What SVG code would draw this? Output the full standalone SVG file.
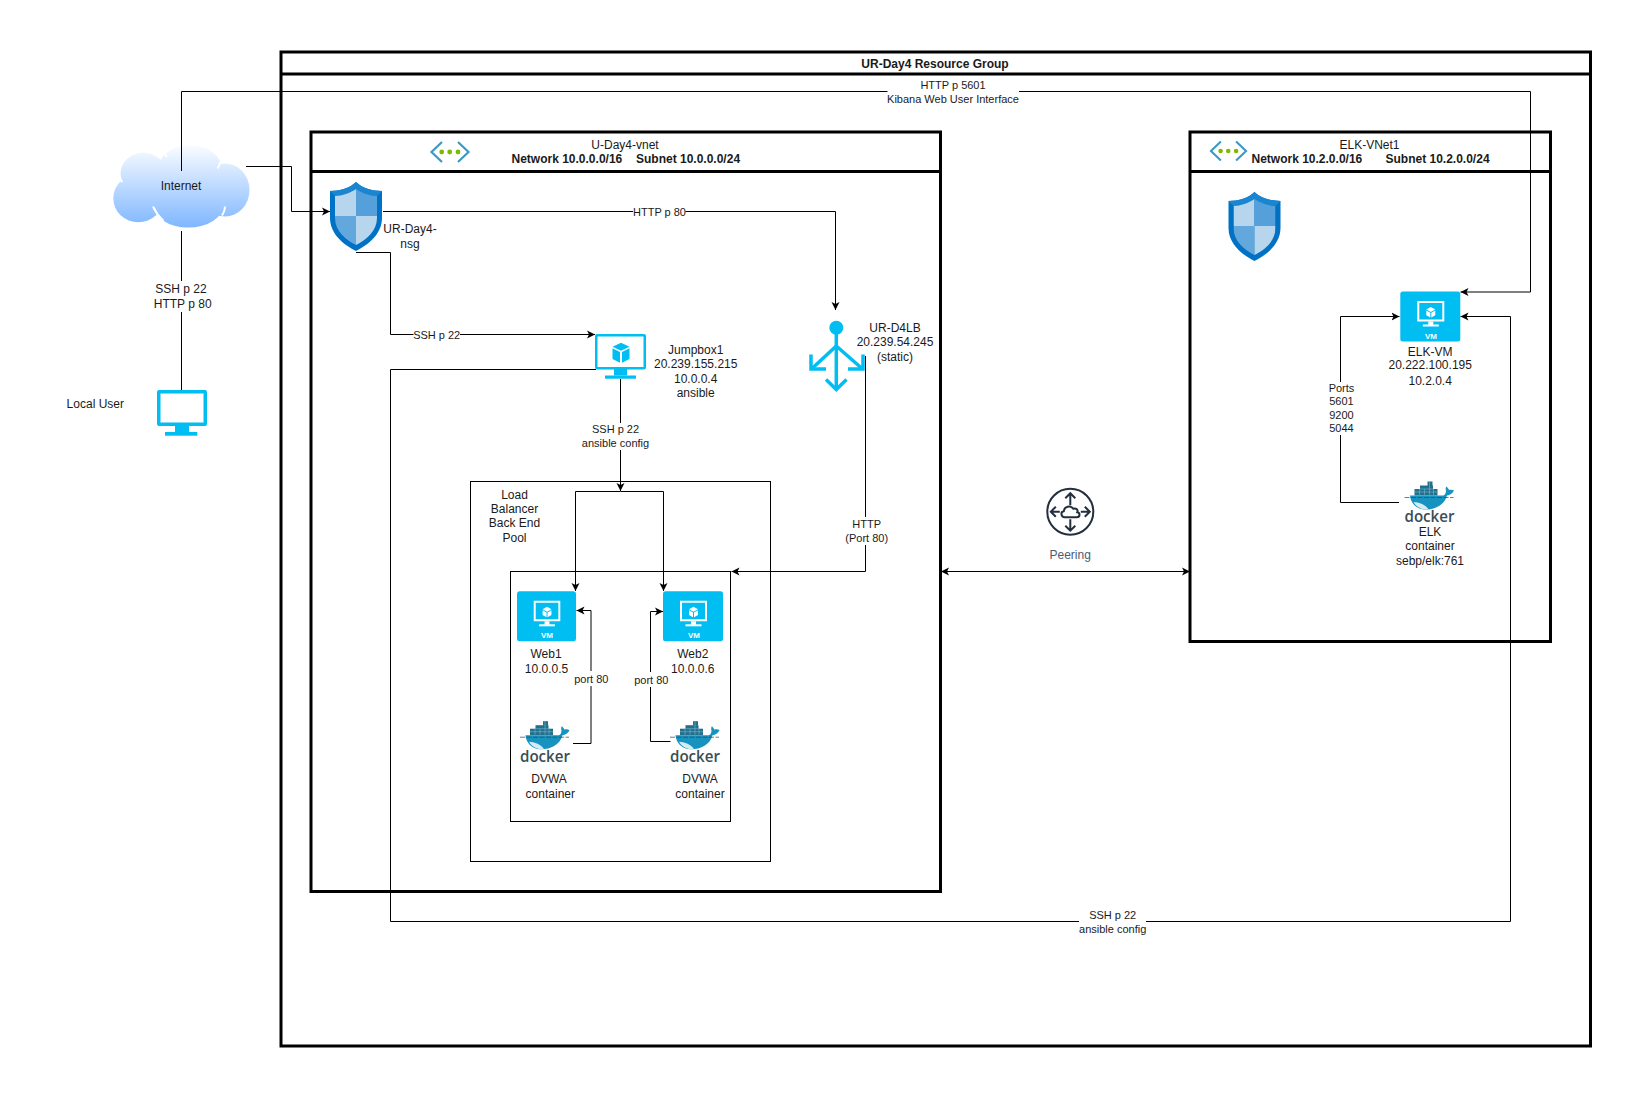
<svg xmlns="http://www.w3.org/2000/svg" xmlns:xlink="http://www.w3.org/1999/xlink" width="1643" height="1098" viewBox="0 0 1643 1098">
<style>
text{font-family:"Liberation Sans",Arial,sans-serif;font-size:12px;fill:#1a1a1a;text-anchor:middle}
.e{font-size:11px}
.b{font-weight:bold}
.l{text-anchor:start}
.box{fill:none;stroke:#000;stroke-width:3}
.thin{fill:none;stroke:#000;stroke-width:1}
.c{fill:none;stroke:#000;stroke-width:1}
.a{marker-end:url(#arr)}
.m{fill:#fff}
.vmt{font-size:8px;font-weight:bold;fill:#fff}
.dk{font-family:"Open Sans","Liberation Sans",sans-serif;font-size:16px;font-weight:600;fill:#3a4d54;text-anchor:start}
.mon{fill:#00bef2}
</style>
<defs>
<marker id="arr" markerUnits="userSpaceOnUse" markerWidth="9" markerHeight="9" refX="8" refY="4.5" orient="auto-start-reverse" viewBox="0 0 9 9"><path d="M0 0.5L8 4.5L0 8.500L2 4.5Z" fill="#000"/></marker>
<linearGradient id="cg" gradientUnits="userSpaceOnUse" x1="0" y1="145" x2="0" y2="228"><stop offset="0" stop-color="#fbfdff"/><stop offset="1" stop-color="#7eb6ff"/></linearGradient>
<clipPath id="shc"><path d="M26 7C32 11 40 14 47 14V36C47 49 36 58 26 63C16 58 5 49 5 36V14C12 14 20 11 26 7Z"/></clipPath>
<g id="shield">
<path d="M26 0C32 6 42 9 52 9V36C52 52 38 63 26 69C14 63 0 52 0 36V9C10 9 20 6 26 0Z" fill="#0072c6"/>
<path d="M26 0C32 6 42 9 52 9L47 14C40 14 32 11 26 7C20 11 12 14 5 14L0 9C10 9 20 6 26 0Z" fill="#1a86d0"/>
<g clip-path="url(#shc)"><rect x="0" y="0" width="26" height="34" fill="#b7d5ec"/><rect x="26" y="0" width="26" height="34" fill="#55a0da"/><rect x="0" y="34" width="26" height="35" fill="#62a8dc"/><rect x="26" y="34" width="26" height="35" fill="#b7d5ec"/></g>
</g>
<g id="vnet" fill="none" stroke="#3999c6" stroke-width="2.2">
<path d="M12 1L1.5 11L12 21"/><path d="M28 1L38.5 11L28 21"/>
<circle cx="11.7" cy="11" r="2.4" fill="#7fba00" stroke="none"/><circle cx="19.7" cy="11" r="2.4" fill="#7fba00" stroke="none"/><circle cx="28" cy="11" r="2.4" fill="#7fba00" stroke="none"/>
</g>
<g id="vmbox">
<rect x="0" y="0" width="60" height="50" rx="2.5" fill="#00bef2"/>
<path fill-rule="evenodd" d="M17 9.5H44V30H17ZM19 11.5V28H42V11.5Z" fill="#fff"/>
<rect x="28" y="30" width="5" height="3.5" fill="#fff"/><rect x="22.5" y="33" width="16" height="2" fill="#fff"/>
<path d="M30.5 15.5L35 18L30.5 20.5L26 18Z M26 19L30 21.2V26L26 23.7Z M35 19L31 21.2V26L35 23.7Z" fill="#fff"/>
</g>
<g id="whale">
<rect x="10" y="8" width="23" height="6.5" fill="#24708c"/>
<rect x="15.5" y="4.5" width="13" height="4" fill="#24708c"/>
<rect x="23" y="0.5" width="5" height="4.5" fill="#24708c"/>
<path d="M10 11H33M15.5 8H29M15 8V14M20 8V14M25 1V14M29 8V14" stroke="#7fc4dc" stroke-width="0.5" fill="none"/>
<path d="M5.5 14.5H38C40 14.5 41 13.5 41.5 10C41 8 41 6.5 42 5.5C43 7 44.5 8 44.5 9C46 8.5 48 8.5 49.5 9.5C48 12.500 45.5 14 42.5 14.500C40 24 31 28.500 21 28.500C11 28.500 6 21 5.5 14.500Z" fill="#1793c0"/>
<path d="M9 21C14 21 22 24 24 28.500C17 29 12 26 9 21Z" fill="#d5ecf4"/>
<path d="M0 16.500H49" stroke="#2f4650" stroke-width="0.7" stroke-dasharray="5 1.500" fill="none"/>
</g>
<g id="cube"><path d="M0 -10L8.5 -6L0 -2L-8.5 -6Z M-8.5 -4.500L-1 -0.800V10L-8.500 6.200Z M8.500 -4.500L1 -0.800V10L8.500 6.200Z" fill="#00bef2"/></g>
</defs>
<rect width="1643" height="1098" fill="#fff"/>

<g id="resource-group">
<rect class="box" x="281" y="52" width="1309.5" height="994"/>
<path class="box" d="M281 74H1590.5"/>
<text class="b" x="935" y="68">UR-Day4 Resource Group</text>
</g>
<g id="u-day4-vnet">
<rect class="box" x="311" y="132" width="629.5" height="759.5"/>
<path class="box" d="M311 171.5H940.5"/>
<text x="625" y="149">U-Day4-vnet</text>
<text class="b l" x="511.500" y="163">Network 10.0.0.0/16</text>
<text class="b l" x="636" y="163">Subnet 10.0.0.0/24</text>
<use xlink:href="#vnet" href="#vnet" x="430" y="141"/>
</g>
<g id="elk-vnet1">
<rect class="box" x="1190" y="132" width="360.5" height="509.5"/>
<path class="box" d="M1190 171.5H1550.5"/>
<text x="1369.5" y="149">ELK-VNet1</text>
<text class="b l" x="1251.5" y="163">Network 10.2.0.0/16</text>
<text class="b l" x="1385.500" y="163">Subnet 10.2.0.0/24</text>
<use xlink:href="#vnet" href="#vnet" transform="translate(1209.5 140.5) scale(.95)"/>
</g>
<g id="lb-pool">
<rect class="thin" x="470.5" y="481.5" width="300" height="380"/>
<text x="514.5" y="498.5">Load</text><text x="514.5" y="512.5">Balancer</text><text x="514.5" y="527">Back End</text><text x="514.5" y="541.5">Pool</text>
</g>
<g id="web-pool"><rect class="thin" x="510.5" y="571.5" width="220" height="250"/></g>

<g id="internet">
<g fill="url(#cg)"><ellipse cx="143.3" cy="173.3" rx="22.7" ry="20.7"/><ellipse cx="190" cy="169" rx="31.7" ry="24"/><ellipse cx="225" cy="190" rx="24.5" ry="26.5"/><ellipse cx="188.3" cy="203.3" rx="36" ry="24.3"/><ellipse cx="138.3" cy="198.3" rx="25" ry="24"/><rect x="135" y="165" width="90" height="45"/></g>
<g fill="none" stroke="#fff" stroke-width="2"><path d="M153 206.5Q157 215 163.5 221"/><path d="M225 206.5Q225 211 222 215.5"/><path d="M220 162Q220 165 217.5 168.5"/><path d="M162.5 151Q165 154 167 157"/><path d="M118 178Q120 180 122.5 182"/></g>
<text x="181" y="189.5">Internet</text>
</g>

<g id="connectors">
<path class="c a" d="M246 166.5H291.5V211.5H330"/>
<path class="c a" d="M383 211.5H835.5V310"/>
<path class="c a" d="M356 252.5H390.5V334.5H595"/>
<path class="c a" d="M596 369.5H390.5V921.5H1510.5V316.5H1460.500"/>
<path class="c a" d="M181.5 171V91.5H1530.5V292H1460.500"/>
<path class="c" d="M181.5 231V390"/>
<path class="c a" d="M620.5 379V491"/>
<path class="c a" d="M620.5 491.5H575.5V591"/>
<path class="c a" d="M620.5 491.5H663.5V591"/>
<path class="c a" d="M865.500 356V571.5H731.500"/>
<path class="c a" d="M941 571.5H1190" marker-start="url(#arr)"/>
<path class="c a" d="M573 743.5H591V610.5H576.500"/>
<path class="c a" d="M670.5 741.5H650.5V611.5H663"/>
<path class="c a" d="M1399 502.5H1340.5V316.5H1399.500"/>
<rect class="m" x="633" y="205" width="52.5" height="14"/>
<rect class="m" x="413.5" y="328" width="46.5" height="14"/>
<rect class="m" x="155" y="281" width="55" height="31"/>
<rect class="m" x="581" y="423" width="68" height="27"/>
<rect class="m" x="845" y="517" width="43" height="28"/>
<rect class="m" x="574" y="671" width="35" height="15"/>
<rect class="m" x="634" y="672" width="35" height="15"/>
<rect class="m" x="1328" y="382" width="27" height="53"/>
<rect class="m" x="887.5" y="78" width="131.5" height="27"/>
<rect class="m" x="1079" y="908" width="67" height="28"/>
<text class="e" x="659.5" y="216">HTTP p 80</text>
<text class="e" x="436.7" y="339">SSH p 22</text>
<text x="181" y="293">SSH p 22</text>
<text x="182.7" y="308">HTTP p 80</text>
<text class="e" x="615.5" y="433">SSH p 22</text>
<text class="e" x="615.5" y="447">ansible config</text>
<text class="e" x="866.7" y="528">HTTP</text>
<text class="e" x="866.7" y="541.5">(Port 80)</text>
<text class="e" x="591.3" y="683">port 80</text>
<text class="e" x="651.3" y="683.5">port 80</text>
<text class="e" x="1341.5" y="391.5">Ports</text>
<text class="e" x="1341.5" y="405">5601</text>
<text class="e" x="1341.5" y="418.500">9200</text>
<text class="e" x="1341.5" y="432">5044</text>
<text class="e" x="953" y="89">HTTP p 5601</text>
<text class="e" x="953" y="103">Kibana Web User Interface</text>
<text class="e" x="1112.7" y="919">SSH p 22</text>
<text class="e" x="1112.7" y="932.5">ansible config</text>
</g>

<g id="local-user">
<path class="mon" fill-rule="evenodd" d="M159 390H205a2 2 0 0 1 2 2V424a2 2 0 0 1 -2 2H159a2 2 0 0 1 -2 -2V392a2 2 0 0 1 2 -2ZM160.500 393.500V422.500H203.500V393.500Z"/>
<rect class="mon" x="175" y="426" width="14" height="6.500"/><rect class="mon" x="165" y="432" width="32.300" height="3.700"/>
<text x="95.300" y="408">Local User</text>
</g>

<g id="nsg">
<use xlink:href="#shield" href="#shield" x="330" y="182"/>
<text x="410" y="233">UR-Day4-</text><text x="410" y="248">nsg</text>
</g>
<g id="elk-nsg"><use xlink:href="#shield" href="#shield" x="1228.500" y="192"/></g>

<g id="jumpbox1">
<path class="mon" fill-rule="evenodd" d="M597 334H644a2 2 0 0 1 2 2V367.500a2 2 0 0 1 -2 2H597a2 2 0 0 1 -2 -2V336a2 2 0 0 1 2 -2ZM597.500 336.500V367H643.500V336.500Z"/>
<rect class="mon" x="614" y="369" width="13" height="6.500"/><rect class="mon" x="605" y="375.500" width="31" height="3.200"/>
<use xlink:href="#cube" href="#cube" x="621" y="352.700"/>
<text x="695.700" y="354">Jumpbox1</text><text x="695.700" y="368">20.239.155.215</text><text x="695.700" y="382.700">10.0.0.4</text><text x="695.700" y="396.700">ansible</text>
</g>

<g id="ur-d4lb">
<circle cx="836.300" cy="327.700" r="7" fill="#00bef2"/>
<g fill="none" stroke="#00bef2" stroke-width="3.500"><path d="M836.300 330V388"/><path d="M836.300 346L812 368.500"/><path d="M836.300 346L862 368.500"/><path d="M811 354.500V369H826"/><path d="M863 354.500V369H848"/><path d="M826 379.500L836.300 389.500L846.500 379.500"/></g>
<text x="895" y="331.700">UR-D4LB</text><text x="895" y="345.700">20.239.54.245</text><text x="895" y="360.700">(static)</text>
</g>

<g id="web1">
<use xlink:href="#vmbox" href="#vmbox" transform="translate(517 591.300) scale(.984 1)"/>
<text class="vmt" x="547" y="638.300">VM</text>
<text x="546" y="657.700">Web1</text><text x="546.500" y="672.700">10.0.0.5</text>
</g>
<g id="web2">
<use xlink:href="#vmbox" href="#vmbox" x="663" y="591.300"/>
<text class="vmt" x="694" y="638.300">VM</text>
<text x="692.800" y="657.700">Web2</text><text x="692.800" y="672.700">10.0.0.6</text>
</g>
<g id="docker-web1">
<use xlink:href="#whale" href="#whale" x="520" y="720.700"/>
<text class="dk" x="520" y="761.500" textLength="50" lengthAdjust="spacingAndGlyphs">docker</text>
<text x="549" y="782.700">DVWA</text><text x="550.300" y="797.700">container</text>
</g>
<g id="docker-web2">
<use xlink:href="#whale" href="#whale" x="670" y="720.700"/>
<text class="dk" x="670" y="761.500" textLength="50" lengthAdjust="spacingAndGlyphs">docker</text>
<text x="700" y="782.700">DVWA</text><text x="700" y="797.700">container</text>
</g>

<g id="peering" fill="none" stroke="#232f3e" stroke-width="2">
<circle cx="1070.300" cy="511.700" r="23"/>
<g transform="translate(1070.300 511.700)"><path d="M0 -6.500V-18.500M-5 -13.500L0 -18.500L5 -13.500"/><path d="M0 7.500V19M-5 14L0 19L5 14"/><path d="M-10.500 0H-19M-14.500 -5L-19.500 0L-14.500 5"/><path d="M10.500 0H19M14.500 -5L19.500 0L14.500 5"/><path d="M-5.500 5.500C-9.500 5.500 -10 0 -6.500 -0.500C-6 -5 0 -7 3 -3C6 -4 8 -1.500 7 0.500C10 1 10 5.500 6.500 5.500Z"/></g>
</g>
<g id="peering-label"><text x="1070.200" y="559" style="fill:#4f5b6e">Peering</text></g>

<g id="elk-vm">
<use xlink:href="#vmbox" href="#vmbox" x="1400.300" y="291.500"/>
<text class="vmt" x="1431" y="338.500">VM</text>
<text x="1430.200" y="356">ELK-VM</text><text x="1430.200" y="369.400">20.222.100.195</text><text x="1430.200" y="384.700">10.2.0.4</text>
</g>
<g id="elk-container">
<use xlink:href="#whale" href="#whale" x="1404.500" y="481"/>
<text class="dk" x="1404.500" y="522" textLength="50" lengthAdjust="spacingAndGlyphs">docker</text>
<text x="1430" y="535.500">ELK</text><text x="1430" y="550">container</text><text x="1430" y="564.600">sebp/elk:761</text>
</g>
</svg>
